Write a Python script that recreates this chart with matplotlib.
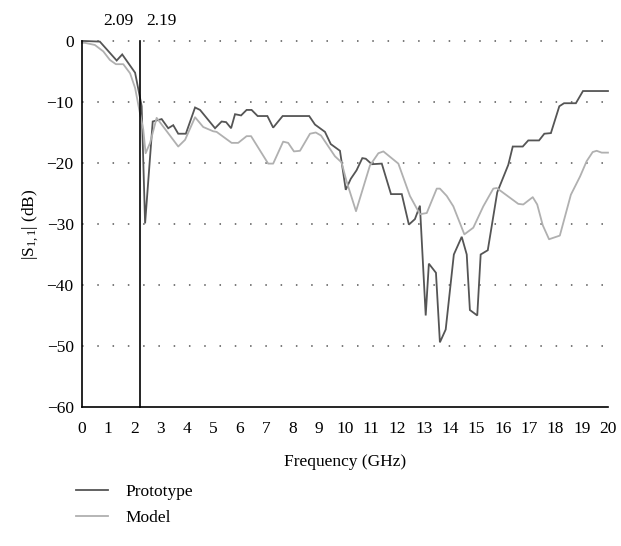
import matplotlib
matplotlib.use("Agg")
import matplotlib.pyplot as plt

plt.rcParams["font.family"] = ["Liberation Serif", "DejaVu Serif"]
plt.rcParams["mathtext.fontset"] = "custom"
plt.rcParams["mathtext.rm"] = "Liberation Serif"
plt.rcParams["mathtext.it"] = "Liberation Serif:italic"

# measured return loss of the prototype
proto_f = [0.0, 0.11, 0.68, 1.32, 1.53, 2.02, 2.27, 2.40, 2.69, 3.03, 3.28, 3.47,
           3.66, 3.95, 4.30, 4.49, 5.06, 5.31, 5.48, 5.67, 5.82, 6.05, 6.26, 6.45,
           6.68, 7.05, 7.27, 7.63, 8.64, 8.86, 9.24, 9.46, 9.81, 10.03, 10.22,
           10.44, 10.66, 10.79, 11.02, 11.40, 11.75, 12.16, 12.43, 12.66, 12.85,
           13.07, 13.19, 13.46, 13.61, 13.83, 14.14, 14.44, 14.63, 14.75, 15.03,
           15.16, 15.43, 15.79, 16.21, 16.38, 16.76, 16.97, 17.38, 17.58, 17.83,
           18.15, 18.33, 18.78, 19.05, 20.0]
proto_s11 = [0.0, 0.0, -0.1, -3.2, -2.2, -5.2, -10.7, -29.9, -13.2, -12.8, -14.3,
             -13.8, -15.2, -15.2, -10.9, -11.3, -14.3, -13.2, -13.3, -14.3, -12.0,
             -12.2, -11.3, -11.3, -12.3, -12.3, -14.2, -12.3, -12.3, -13.7, -14.9,
             -16.9, -18.0, -24.4, -22.6, -21.2, -19.2, -19.3, -20.2, -20.1, -25.1,
             -25.1, -30.1, -29.2, -27.0, -45.0, -36.5, -38.0, -49.4, -47.3, -35.0,
             -32.1, -35.0, -44.1, -45.0, -35.0, -34.3, -24.8, -20.3, -17.3, -17.3,
             -16.3, -16.3, -15.2, -15.1, -10.7, -10.2, -10.2, -8.2, -8.2]

# simulated model
model_f = [0.0, 0.11, 0.49, 0.81, 1.06, 1.29, 1.57, 1.83, 2.02, 2.18, 2.33, 2.42,
           2.59, 2.84, 3.66, 3.92, 4.30, 4.61, 4.99, 5.12, 5.69, 5.94, 6.26, 6.43,
           7.08, 7.27, 7.65, 7.84, 8.06, 8.29, 8.67, 8.89, 9.09, 9.62, 9.87, 10.06,
           10.42, 10.95, 11.27, 11.46, 12.03, 12.47, 12.85, 13.11, 13.49, 13.61,
           13.87, 14.12, 14.54, 14.88, 15.26, 15.64, 15.77, 16.59, 16.78, 17.14,
           17.31, 17.52, 17.76, 18.17, 18.59, 18.94, 19.19, 19.42, 19.57, 19.76, 20.0]
model_s11 = [-0.3, -0.3, -0.65, -1.7, -3.1, -3.8, -3.8, -5.3, -7.7, -11.3, -14.5,
             -18.4, -16.7, -12.6, -17.3, -16.2, -12.5, -14.1, -14.8, -14.9, -16.7,
             -16.7, -15.6, -15.6, -20.1, -20.1, -16.5, -16.7, -18.1, -18.0, -15.2,
             -15.0, -15.5, -18.9, -19.9, -23.0, -27.9, -20.4, -18.4, -18.1, -20.1,
             -25.4, -28.4, -28.2, -24.2, -24.2, -25.4, -27.1, -31.7, -30.6, -27.1,
             -24.2, -24.1, -26.7, -26.8, -25.6, -26.8, -30.2, -32.5, -31.9, -25.2,
             -22.2, -19.7, -18.2, -18.0, -18.3, -18.3]

marker_f = 2.19
marker_labels = ["2.09", "2.19"]
x_ticks = list(range(0, 21))
y_ticks = [0, -10, -20, -30, -40, -50, -60]

fs = 12.5

fig = plt.figure(figsize=(6.21, 5.46), dpi=100)
ax = fig.add_axes([0.132, 0.2546, 0.847, 0.6703])

for y in y_ticks[:-1]:
    ax.axhline(y, color="#555555", lw=1.1, ls=(0, (1, 9)), zorder=0, clip_on=False)

l1, = ax.plot(proto_f, proto_s11, color="#555555", lw=1.3, clip_on=False,
              solid_joinstyle="miter")
l2, = ax.plot(model_f, model_s11, color="#b0b0b0", lw=1.3, clip_on=False)
ax.plot([marker_f, marker_f], [-60, 0], color="black", lw=1.2, clip_on=False)

ax.annotate(marker_labels[0], (marker_f, 0), xytext=(-6, 12),
            textcoords="offset pixels", ha="right", va="bottom", fontsize=fs)
ax.annotate(marker_labels[1], (marker_f, 0), xytext=(7, 12),
            textcoords="offset pixels", ha="left", va="bottom", fontsize=fs)

ax.set_xlim(0, 20)
ax.set_ylim(-60, 0)
ax.set_xticks(x_ticks)
ax.set_yticks(y_ticks)
ax.set_yticklabels(["0", "\u221210", "\u221220", "\u221230", "\u221240",
                    "\u221250", "\u221260"])
ax.tick_params(length=0, labelsize=fs)
ax.tick_params(axis="x", pad=10)
ax.tick_params(axis="y", pad=6)
for side in ("top", "right"):
    ax.spines[side].set_visible(False)
for side in ("left", "bottom"):
    ax.spines[side].set_linewidth(1.2)

ax.set_xlabel("Frequency (GHz)", fontsize=fs, labelpad=12)
ax.set_ylabel(r"$|\mathrm{S}_{1,1}|$ (dB)", fontsize=fs, labelpad=4)

fig.legend([l1, l2], ["Prototype", "Model"], loc="upper left",
           bbox_to_anchor=(0.097, 0.143), frameon=False, fontsize=fs,
           handlelength=1.85, handletextpad=1.0, labelspacing=0.6)

fig.savefig("out.png", dpi=100)
